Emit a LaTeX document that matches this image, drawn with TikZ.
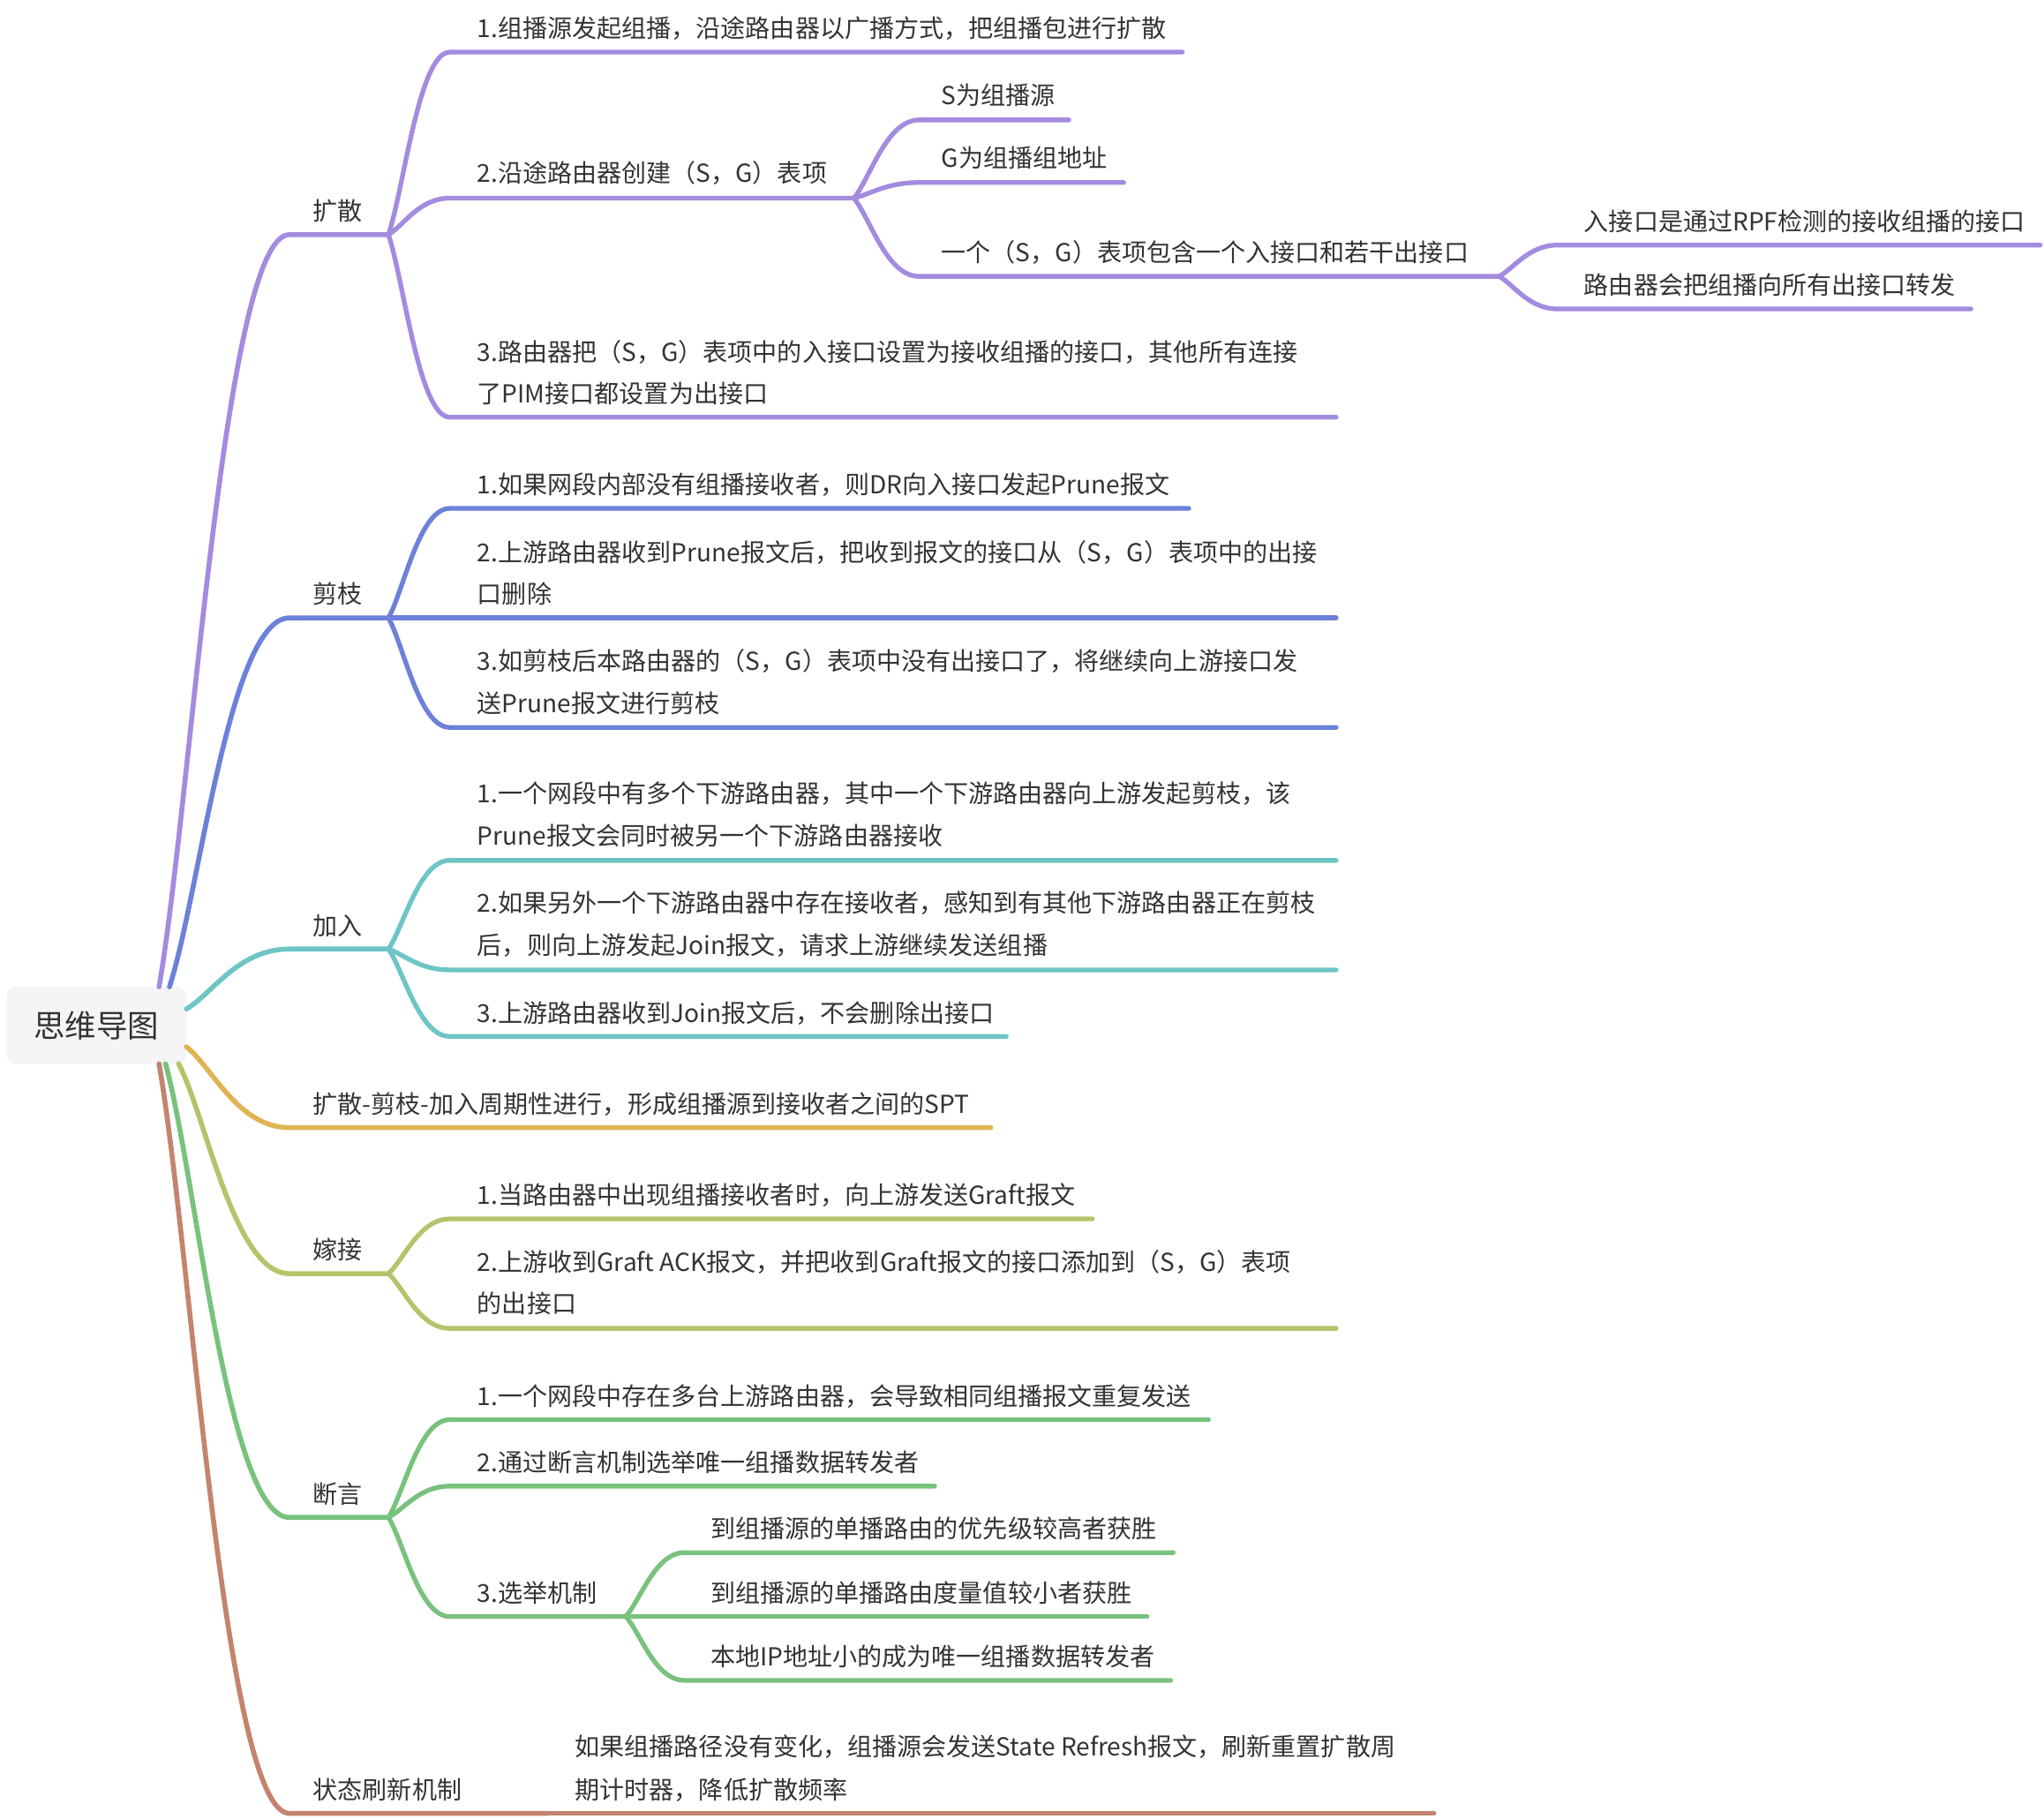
\documentclass[tikz,border=0pt]{standalone}
\usepackage{fontspec}
\setmainfont{Noto Sans CJK SC}
\usetikzlibrary{calc}
\definecolor{ctext}{HTML}{333333}
\definecolor{cpur}{HTML}{A38BE0}
\definecolor{cblue}{HTML}{6D80DA}
\definecolor{cteal}{HTML}{6EC5C5}
\definecolor{cyel}{HTML}{E0B452}
\definecolor{cyg}{HTML}{B3C46B}
\definecolor{cgrn}{HTML}{78C27E}
\definecolor{cbrn}{HTML}{C3846F}
\definecolor{crootbg}{HTML}{F5F5F5}
\tikzset{
  txt/.style={anchor=base west, inner sep=0pt, text=ctext, font=\fontsize{19}{24}\selectfont},
  rootbox/.style={fill=crootbg, rounded corners=7pt, minimum width=138pt, minimum height=59pt, inner sep=0pt, text=ctext, font=\fontsize{24}{28}\selectfont},
  br/.style={line width=3.6pt, line cap=round},
  brone/.style={line width=3.8pt, line cap=round},
}
% #1 style, #2 from, #3 start of underline, #4 end of underline
\newcommand\mmbr[4]{%
  \draw[#1] let \p1=(#2), \p2=(#3) in (\p1) .. controls ({\x1+0.25*(\x2-\x1)},{\y1+0.25*(\y2-\y1)}) and ({\x2-0.5*(\x2-\x1)},\y2) .. (\p2) -- (#4);}
\begin{document}
\begin{tikzpicture}[x=1pt,y=-1pt]
\useasboundingbox (0,0) rectangle (1568,1394.7);

% ---------- root ----------
\node[rootbox] (root) at (74,786.5) {思维导图};
\coordinate (r1) at (122,757);
\coordinate (r2) at (130,757);
\coordinate (r3) at (143,774);
\coordinate (r4) at (143,803);
\coordinate (r5) at (137,816);
\coordinate (r6) at (127,816);
\coordinate (r7) at (122,816);

% ---------- 扩散 ----------
\node[txt] (k) at (240,169) {扩散};
\coordinate (k-s) at (222,180); \coordinate (k-e) at (298,180);
\mmbr{brone,cpur}{r1}{k-s}{k-e}

\node[txt] (k1) at (366,29) {1.组播源发起组播，沿途路由器以广播方式，把组播包进行扩散};
\coordinate (k1-s) at (345,40); \coordinate (k1-e) at (907,40);
\mmbr{br,cpur}{k-e}{k1-s}{k1-e}

\node[txt] (k2) at (366,140) {2.沿途路由器创建（S，G）表项};
\coordinate (k2-s) at (345,152); \coordinate (k2-e) at (655,152);
\mmbr{br,cpur}{k-e}{k2-s}{k2-e}

\node[txt] (k21) at (722,80) {S为组播源};
\coordinate (k21-s) at (705,92); \coordinate (k21-e) at (820,92);
\mmbr{br,cpur}{k2-e}{k21-s}{k21-e}

\node[txt] (k22) at (722,128) {G为组播组地址};
\coordinate (k22-s) at (705,140); \coordinate (k22-e) at (862,140);
\mmbr{br,cpur}{k2-e}{k22-s}{k22-e}

\node[txt] (k23) at (722,201) {一个（S，G）表项包含一个入接口和若干出接口};
\coordinate (k23-s) at (705,212); \coordinate (k23-e) at (1150,212);
\mmbr{br,cpur}{k2-e}{k23-s}{k23-e}

\node[txt] (k231) at (1215,177) {入接口是通过RPF检测的接收组播的接口};
\coordinate (k231-s) at (1195,188); \coordinate (k231-e) at (1565,188);
\mmbr{br,cpur}{k23-e}{k231-s}{k231-e}

\node[txt] (k232) at (1215,226) {路由器会把组播向所有出接口转发};
\coordinate (k232-s) at (1195,237); \coordinate (k232-e) at (1512,237);
\mmbr{br,cpur}{k23-e}{k232-s}{k232-e}

\node[txt] (k3) at (366,277) {3.路由器把（S，G）表项中的入接口设置为接收组播的接口，其他所有连接};
\node[txt] (k3b) at (366,309) {了PIM接口都设置为出接口};
\coordinate (k3-s) at (345,320); \coordinate (k3-e) at (1025,320);
\mmbr{br,cpur}{k-e}{k3-s}{k3-e}

% ---------- 剪枝 ----------
\node[txt] (j) at (240,463) {剪枝};
\coordinate (j-s) at (222,474); \coordinate (j-e) at (298,474);
\mmbr{brone,cblue}{r2}{j-s}{j-e}

\node[txt] (j1) at (366,379) {1.如果网段内部没有组播接收者，则DR向入接口发起Prune报文};
\coordinate (j1-s) at (345,390); \coordinate (j1-e) at (912,390);
\mmbr{br,cblue}{j-e}{j1-s}{j1-e}

\node[txt] (j2) at (366,431) {2.上游路由器收到Prune报文后，把收到报文的接口从（S，G）表项中的出接};
\node[txt] (j2b) at (366,463) {口删除};
\coordinate (j2-s) at (345,474); \coordinate (j2-e) at (1025,474);
\draw[br,cblue] (j-e) -- (j2-s) -- (j2-e);

\node[txt] (j3) at (366,514) {3.如剪枝后本路由器的（S，G）表项中没有出接口了，将继续向上游接口发};
\node[txt] (j3b) at (366,547) {送Prune报文进行剪枝};
\coordinate (j3-s) at (345,558); \coordinate (j3-e) at (1025,558);
\mmbr{br,cblue}{j-e}{j3-s}{j3-e}

% ---------- 加入 ----------
\node[txt] (a) at (240,717) {加入};
\coordinate (a-s) at (222,728); \coordinate (a-e) at (298,728);
\mmbr{brone,cteal}{r3}{a-s}{a-e}

\node[txt] (a1) at (366,616) {1.一个网段中有多个下游路由器，其中一个下游路由器向上游发起剪枝，该};
\node[txt] (a1b) at (366,648) {Prune报文会同时被另一个下游路由器接收};
\coordinate (a1-s) at (345,660); \coordinate (a1-e) at (1025,660);
\mmbr{br,cteal}{a-e}{a1-s}{a1-e}

\node[txt] (a2) at (366,700) {2.如果另外一个下游路由器中存在接收者，感知到有其他下游路由器正在剪枝};
\node[txt] (a2b) at (366,732) {后，则向上游发起Join报文，请求上游继续发送组播};
\coordinate (a2-s) at (345,744); \coordinate (a2-e) at (1025,744);
\mmbr{br,cteal}{a-e}{a2-s}{a2-e}

\node[txt] (a3) at (366,784) {3.上游路由器收到Join报文后，不会删除出接口};
\coordinate (a3-s) at (345,795); \coordinate (a3-e) at (772,795);
\mmbr{br,cteal}{a-e}{a3-s}{a3-e}

% ---------- 周期 ----------
\node[txt] (z) at (240,854) {扩散-剪枝-加入周期性进行，形成组播源到接收者之间的SPT};
\coordinate (z-s) at (222,865); \coordinate (z-e) at (760,865);
\mmbr{brone,cyel}{r4}{z-s}{z-e}

% ---------- 嫁接 ----------
\node[txt] (g) at (240,966) {嫁接};
\coordinate (g-s) at (222,977); \coordinate (g-e) at (298,977);
\mmbr{brone,cyg}{r5}{g-s}{g-e}

\node[txt] (g1) at (366,924) {1.当路由器中出现组播接收者时，向上游发送Graft报文};
\coordinate (g1-s) at (345,935); \coordinate (g1-e) at (838,935);
\mmbr{br,cyg}{g-e}{g1-s}{g1-e}

\node[txt] (g2) at (366,975) {2.上游收到Graft ACK报文，并把收到Graft报文的接口添加到（S，G）表项};
\node[txt] (g2b) at (366,1007) {的出接口};
\coordinate (g2-s) at (345,1019); \coordinate (g2-e) at (1025,1019);
\mmbr{br,cyg}{g-e}{g2-s}{g2-e}

% ---------- 断言 ----------
\node[txt] (d) at (240,1153) {断言};
\coordinate (d-s) at (222,1164); \coordinate (d-e) at (298,1164);
\mmbr{brone,cgrn}{r6}{d-s}{d-e}

\node[txt] (d1) at (366,1078) {1.一个网段中存在多台上游路由器，会导致相同组播报文重复发送};
\coordinate (d1-s) at (345,1089); \coordinate (d1-e) at (927,1089);
\mmbr{br,cgrn}{d-e}{d1-s}{d1-e}

\node[txt] (d2) at (366,1129) {2.通过断言机制选举唯一组播数据转发者};
\coordinate (d2-s) at (345,1140); \coordinate (d2-e) at (717,1140);
\mmbr{br,cgrn}{d-e}{d2-s}{d2-e}

\node[txt] (d3) at (366,1229) {3.选举机制};
\coordinate (d3-s) at (345,1240); \coordinate (d3-e) at (480,1240);
\mmbr{br,cgrn}{d-e}{d3-s}{d3-e}

\node[txt] (d31) at (545,1180) {到组播源的单播路由的优先级较高者获胜};
\coordinate (d31-s) at (525,1191); \coordinate (d31-e) at (900,1191);
\mmbr{br,cgrn}{d3-e}{d31-s}{d31-e}

\node[txt] (d32) at (545,1229) {到组播源的单播路由度量值较小者获胜};
\coordinate (d32-s) at (525,1240); \coordinate (d32-e) at (880,1240);
\draw[br,cgrn] (d3-e) -- (d32-s) -- (d32-e);

\node[txt] (d33) at (545,1278) {本地IP地址小的成为唯一组播数据转发者};
\coordinate (d33-s) at (525,1289); \coordinate (d33-e) at (898,1289);
\mmbr{br,cgrn}{d3-e}{d33-s}{d33-e}

% ---------- 状态刷新机制 ----------
\node[txt] (s) at (240,1380) {状态刷新机制};
\coordinate (s-s) at (222,1391); \coordinate (s-e) at (420,1391);
\mmbr{brone,cbrn}{r7}{s-s}{s-e}

\node[txt] (s1) at (441,1347) {如果组播路径没有变化，组播源会发送State Refresh报文，刷新重置扩散周};
\node[txt] (s1b) at (441,1380) {期计时器，降低扩散频率};
\coordinate (s1-s) at (420,1391); \coordinate (s1-e) at (1100,1391);
\draw[br,cbrn] (s-e) -- (s1-s) -- (s1-e);
\end{tikzpicture}
\end{document}
